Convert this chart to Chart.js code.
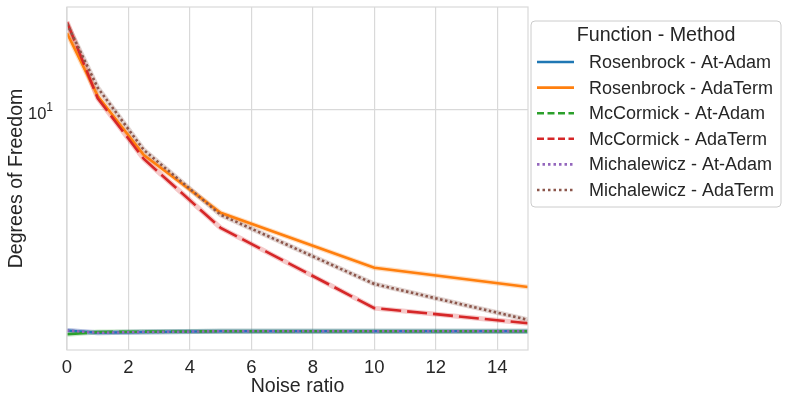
<!DOCTYPE html>
<html>
<head>
<meta charset="utf-8">
<script src="https://cdn.jsdelivr.net/npm/chart.js@4/dist/chart.umd.min.js"></script>
<style>
  html, body { margin: 0; padding: 0; background: #fff; }
  #wrap { width: 789px; height: 405px; }
</style>
</head>
<body>
<div id="wrap"><canvas id="myChart" width="789" height="405"></canvas></div>
<script>
const noiseRatio = [0, 1, 2.5, 5, 10, 15];
const xTicks = [0, 2, 4, 6, 8, 10, 12, 14];
const yTicks = [10];

const rosenbrockAtAdam = [1.63, 1.60, 1.61, 1.62, 1.62, 1.62];
const rosenbrockAdaTerm = [18.8, 11.2, 6.9, 4.29, 2.73, 2.33];
const mccormickAtAdam = [1.58, 1.61, 1.615, 1.62, 1.62, 1.62];
const mccormickAdaTerm = [20.6, 11.0, 6.68, 3.79, 1.96, 1.73];
const michalewiczAtAdam = [1.63, 1.60, 1.61, 1.62, 1.62, 1.62];
const michalewiczAdaTerm = [20.3, 12.0, 7.19, 4.22, 2.39, 1.78];

const FONT = "'Liberation Sans', Arial, sans-serif";
const TEXT = '#262626';
const GRID = '#d9d9d9';

const series = [
    { label: 'Rosenbrock - At-Adam', data: rosenbrockAtAdam, color: '#1f77b4', dash: [], legendDash: [] },
    { label: 'Rosenbrock - AdaTerm', data: rosenbrockAdaTerm, color: '#ff7f0e', dash: [], legendDash: [] },
    { label: 'McCormick - At-Adam', data: mccormickAtAdam, color: '#2ca02c', dash: [20, 6], legendDash: [7, 3.5] },
    { label: 'McCormick - AdaTerm', data: mccormickAdaTerm, color: '#d62728', dash: [20, 6], legendDash: [7, 3.5] },
    { label: 'Michalewicz - At-Adam', data: michalewiczAtAdam, color: '#9467bd', dash: [2.5, 2.5], legendDash: [2.5, 3] },
    { label: 'Michalewicz - AdaTerm', data: michalewiczAdaTerm, color: '#8c564b', dash: [2.5, 2.5], legendDash: [2.5, 3] },
];

function toPoints(values) {
    return noiseRatio.map((x, i) => ({ x: x, y: values[i] }));
}

function hexAlpha(hex, a) {
    const n = parseInt(hex.slice(1), 16);
    return 'rgba(' + (n >> 16) + ',' + ((n >> 8) & 255) + ',' + (n & 255) + ',' + a + ')';
}

const datasets = [];
// faint confidence bands under the lines
series.forEach((s) => {
    datasets.push({
        label: s.label + ' band',
        data: toPoints(s.data),
        borderColor: hexAlpha(s.color, 0.25),
        borderWidth: 5,
        pointRadius: 0,
        tension: 0,
        fill: false,
        order: 100,
    });
});
series.forEach((s, i) => {
    datasets.push({
        label: s.label,
        data: toPoints(s.data),
        borderColor: s.color,
        borderWidth: 2.6,
        borderDash: s.dash,
        pointRadius: 0,
        tension: 0,
        fill: false,
        order: 10 - i,
    });
});

const framePlugin = {
    id: 'frame',
    afterDraw(chart) {
        const { ctx, chartArea } = chart;
        ctx.save();
        ctx.strokeStyle = GRID;
        ctx.lineWidth = 1.2;
        ctx.strokeRect(chartArea.left, chartArea.top, chartArea.right - chartArea.left, chartArea.bottom - chartArea.top);

        // y tick labels as 10 with a raised exponent
        const yScale = chart.scales.y;
        ctx.fillStyle = TEXT;
        ctx.textBaseline = 'alphabetic';
        yTicks.forEach((v) => {
            const y = yScale.getPixelForValue(v);
            const exp = String(Math.round(Math.log10(v)));
            ctx.font = '12px ' + FONT;
            const ew = ctx.measureText(exp).width;
            ctx.textAlign = 'right';
            ctx.fillText(exp, 53, y + 1);
            ctx.font = '16.5px ' + FONT;
            ctx.fillText('10', 53 - ew, y + 9.5);
        });
        ctx.restore();
    },
};

const legendPlugin = {
    id: 'boxLegend',
    afterDraw(chart) {
        const ctx = chart.ctx;
        const x0 = 531, y0 = 21, w = 250, h = 186, r = 4;
        ctx.save();
        ctx.beginPath();
        ctx.roundRect(x0, y0, w, h, r);
        ctx.fillStyle = 'rgba(255,255,255,0.8)';
        ctx.fill();
        ctx.strokeStyle = '#cccccc';
        ctx.lineWidth = 1;
        ctx.stroke();

        ctx.fillStyle = TEXT;
        ctx.textBaseline = 'middle';
        ctx.textAlign = 'center';
        ctx.font = '19.7px ' + FONT;
        ctx.fillText('Function - Method', 656, 36);

        ctx.textAlign = 'left';
        ctx.font = '18px ' + FONT;
        series.forEach((s, i) => {
            const y = 62 + i * 25.6;
            ctx.beginPath();
            ctx.setLineDash(s.legendDash);
            ctx.strokeStyle = s.color;
            ctx.lineWidth = 2.6;
            ctx.moveTo(537, y);
            ctx.lineTo(574, y);
            ctx.stroke();
            ctx.setLineDash([]);
            ctx.fillStyle = TEXT;
            ctx.fillText(s.label, 589, y + 1);
        });
        ctx.restore();
    },
};

const ctx = document.getElementById('myChart').getContext('2d');
new Chart(ctx, {
    type: 'line',
    data: { datasets: datasets },
    plugins: [framePlugin, legendPlugin],
    options: {
        responsive: false,
        animation: false,
        devicePixelRatio: 1,
        layout: { padding: { left: 0, top: 7, right: 261, bottom: 0 } },
        plugins: {
            legend: { display: false },
            tooltip: { enabled: false },
        },
        scales: {
            x: {
                type: 'linear',
                min: 0,
                max: 15,
                afterBuildTicks: (scale) => {
                    scale.ticks = xTicks.map((v) => ({ value: v }));
                },
                afterFit: (scale) => {
                    scale.height = 55;
                    scale.paddingLeft = 0;
                    scale.paddingRight = 0;
                },
                grid: { color: GRID, lineWidth: 1.2, drawTicks: false },
                border: { display: false },
                ticks: {
                    padding: 7,
                    color: TEXT,
                    font: { family: FONT, size: 18.5 },
                    maxRotation: 0,
                },
                title: {
                    display: true,
                    text: 'Noise ratio',
                    color: TEXT,
                    font: { family: FONT, size: 19.6 },
                    padding: { top: 0, bottom: 7 },
                },
            },
            y: {
                type: 'logarithmic',
                min: 1.389,
                max: 23.3,
                afterBuildTicks: (scale) => {
                    scale.ticks = yTicks.map((v) => ({ value: v }));
                },
                afterFit: (scale) => {
                    scale.width = 67;
                    scale.paddingTop = 0;
                    scale.paddingBottom = 0;
                },
                grid: { color: GRID, lineWidth: 1.2, drawTicks: false },
                border: { display: false },
                ticks: {
                    display: false,
                },
                title: {
                    display: true,
                    text: 'Degrees of Freedom',
                    color: TEXT,
                    font: { family: FONT, size: 19.6 },
                    padding: { top: 5, bottom: 0 },
                },
            },
        },
    },
});
</script>
</body>
</html>
